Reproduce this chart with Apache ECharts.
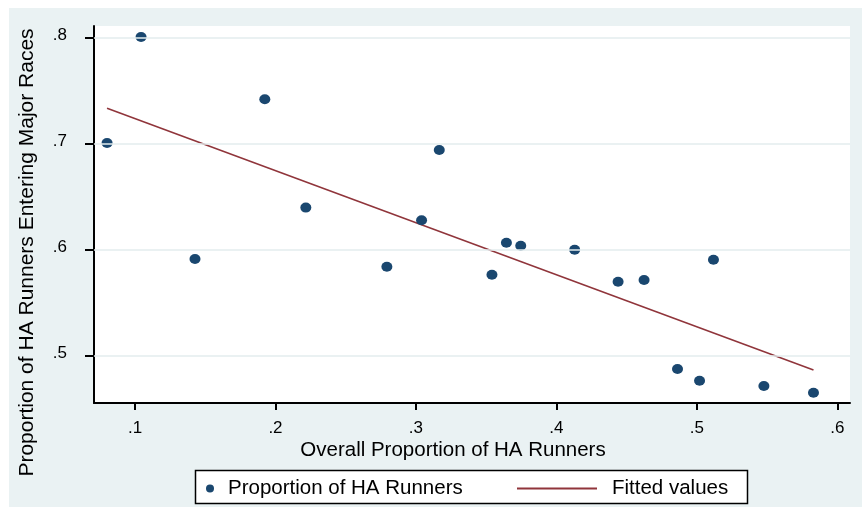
<!DOCTYPE html>
<html>
<head>
<meta charset="utf-8">
<script src="https://cdn.jsdelivr.net/npm/echarts@6/dist/echarts.min.js"></script>
<style>
html,body{margin:0;padding:0;background:#fff;}
#chart{width:863px;height:508px;}
</style>
</head>
<body>
<div id="chart"></div>
<script>
// Data
const overallProp = [0.0801, 0.1043, 0.1427, 0.1924, 0.2216, 0.2793, 0.3040, 0.3166, 0.3541, 0.3644, 0.3746, 0.4130, 0.4439, 0.4624, 0.4862, 0.5019, 0.5118, 0.5477, 0.5830];
const majorProp   = [0.7010, 0.8010, 0.5915, 0.7422, 0.6400, 0.5843, 0.6280, 0.6943, 0.5767, 0.6069, 0.6041, 0.6003, 0.5701, 0.5717, 0.4877, 0.4767, 0.5909, 0.4717, 0.4654];
const fitX = [0.0801, 0.5830];
const fitY = [0.7337, 0.4868];
const xTicks = [0.1, 0.2, 0.3, 0.4, 0.5, 0.6];
const yTicks = [0.5, 0.6, 0.7, 0.8];
const seriesNames = ['Proportion of HA Runners', 'Fitted values'];
const xTitle = 'Overall Proportion of HA Runners';
const yTitle = 'Proportion of HA Runners Entering Major Races';

const FONT = 'Liberation Sans, Arial, sans-serif';
const fmt = v => (Math.round(v * 10) / 10).toFixed(1).replace(/^0/, '');

const chart = echarts.init(document.getElementById('chart'), null, {renderer: 'canvas'});
chart.setOption({
  backgroundColor: '#ffffff',
  animation: false,
  textStyle: {fontFamily: FONT},
  graphic: [
    {type: 'rect', z: -10, shape: {x: 9, y: 8, width: 853, height: 499}, style: {fill: '#eaf2f3'}, silent: true},
    {type: 'rect', z: 1, shape: {x: 195.5, y: 470.5, width: 552, height: 33}, style: {fill: '#ffffff', stroke: '#000', lineWidth: 1.5}, silent: true},
    {type: 'text', z: 5, x: 27, y: 252.5, rotation: Math.PI / 2,
      style: {text: yTitle, font: '21px ' + FONT, fill: '#000', align: 'center', verticalAlign: 'middle'}},
    {type: 'text', z: 5, x: 453, y: 450,
      style: {text: xTitle, font: '20.5px ' + FONT, fill: '#000', align: 'center', verticalAlign: 'middle'}}
  ],
  grid: {left: 94, top: 26, right: 13, bottom: 105, show: true, backgroundColor: '#ffffff', borderWidth: 0, containLabel: false},
  legend: [
    {data: [{name: seriesNames[0], icon: 'circle'}], left: 206, top: 478, itemWidth: 8, itemHeight: 8, itemGap: 0,
      textStyle: {fontSize: 20.5, color: '#000', fontFamily: FONT, padding: [0, 0, 0, 9]}, padding: 0, selectedMode: false},
    {data: [{name: seriesNames[1], icon: 'rect'}], left: 517, top: 478, itemWidth: 80, itemHeight: 2, itemGap: 0,
      textStyle: {fontSize: 20.5, color: '#000', fontFamily: FONT, padding: [0, 0, 0, 10]}, padding: 0, selectedMode: false}
  ],
  xAxis: {
    type: 'value', min: 0.0708, max: 0.609,
    axisLine: {show: true, onZero: false, lineStyle: {color: '#000', width: 2}},
    axisTick: {show: true, customValues: xTicks, length: 7, lineStyle: {color: '#000', width: 2}},
    axisLabel: {show: true, customValues: xTicks, formatter: fmt, fontSize: 17, color: '#000', margin: 17, fontFamily: FONT},
    splitLine: {show: false}
  },
  yAxis: {
    type: 'value', min: 0.4557, max: 0.8113,
    axisLine: {show: true, onZero: false, lineStyle: {color: '#000', width: 2}},
    axisTick: {show: true, customValues: yTicks, length: 9, lineStyle: {color: '#000', width: 2}},
    axisLabel: {show: true, customValues: yTicks, formatter: fmt, fontSize: 17, color: '#000', margin: 27, fontFamily: FONT,
      verticalAlign: 'bottom', lineHeight: 5},
    splitLine: {show: false}
  },
  series: [
    {
      name: 'grid', type: 'line', data: [], z: 1, silent: true,
      markLine: {silent: true, symbol: ['none', 'none'], label: {show: false},
        lineStyle: {color: '#e3ecee', width: 1.5, type: 'solid'},
        data: yTicks.map(v => ({yAxis: v}))}
    },
    {
      name: seriesNames[0], type: 'scatter', z: 3,
      data: overallProp.map((x, i) => [x, majorProp[i]]),
      symbol: 'circle', symbolSize: [11, 10],
      itemStyle: {color: '#1a476f', opacity: 1}
    },
    {
      name: seriesNames[1], type: 'line', z: 2,
      data: fitX.map((x, i) => [x, fitY[i]]),
      symbol: 'none', showSymbol: false,
      lineStyle: {color: '#90353b', width: 1.6},
      itemStyle: {color: '#90353b'}
    }
  ]
});
</script>
</body>
</html>
